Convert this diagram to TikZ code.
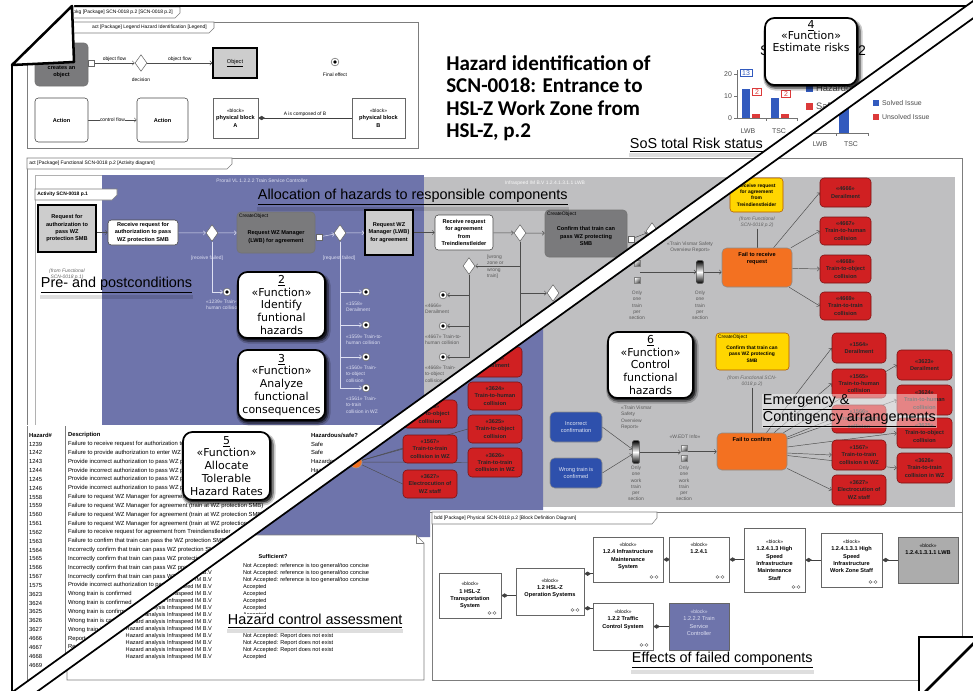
\documentclass[tikz,border=0pt]{standalone}
\usepackage{fontspec}
\setmainfont{Liberation Sans}
\newfontfamily\titlefont{Carlito}
\newfontfamily\funcfont{DejaVu Sans}
\usetikzlibrary{arrows.meta,shapes.geometric}
\pgfdeclarelayer{bg}
\pgfdeclarelayer{wires}
\pgfsetlayers{bg,wires,main}

% colours
\definecolor{lanebl}{RGB}{110,116,171}
\definecolor{lanegr}{RGB}{191,191,193}
\definecolor{cobj}{RGB}{122,122,124}
\definecolor{objgr}{RGB}{205,205,205}
\definecolor{hzred}{RGB}{208,32,34}
\definecolor{hzbd}{RGB}{120,18,18}
\definecolor{orng}{RGB}{243,113,33}
\definecolor{ylw}{RGB}{255,214,0}
\definecolor{ctlbl}{RGB}{46,80,172}
\definecolor{chbl}{RGB}{50,90,190}
\definecolor{chrd}{RGB}{220,58,58}
\definecolor{frm}{RGB}{125,125,125}
\definecolor{lbllight}{RGB}{222,224,242}
\definecolor{lwbgr}{RGB}{172,172,172}

% font sizes
\newcommand\fSm{\fontsize{4.2pt}{5.5pt}\selectfont}
\newcommand\fXs{\fontsize{3.7pt}{4.7pt}\selectfont}
\newcommand\fTb{\fontsize{4.4pt}{5pt}\selectfont}
\newcommand\fNt{\fontsize{4.2pt}{5pt}\selectfont}
\newcommand\fCh{\fontsize{5.2pt}{6pt}\selectfont}
\newcommand\fLbl{\fontsize{10.8pt}{12.4pt}\selectfont}
\newcommand\fFn{\funcfont\fontsize{8.2pt}{9.7pt}\selectfont}
\newcommand\fTi{\titlefont\bfseries\fontsize{15.8pt}{16.9pt}\selectfont}

% box from pixel corners: name, x1, y1, x2, y2, style, text
\newcommand\mkbox[7]{%
  \pgfmathsetmacro\mkw{(#4-#2)*0.75}%
  \pgfmathsetmacro\mkh{(#5-#3)*0.75}%
  \node[#6, minimum width=\mkw pt, minimum height=\mkh pt] (#1) at ({(#2+#4)/2},{(#3+#5)/2}) {#7};}
% function callout with a soft dark shadow: name, x1, y1, x2, y2, text
\newcommand\mkfunc[6]{%
  \fill[black, opacity=0.2, rounded corners=9pt] ({#2-1.8},{#3+1}) rectangle ({#4+5.5},{#5+5.5});
  \fill[black, opacity=0.35, rounded corners=8pt] ({#2-0.8},{#3+2}) rectangle ({#4+3.8},{#5+3.8});
  \fill[black, opacity=0.6, rounded corners=7pt] ({#2+0.5},{#3+2.5}) rectangle ({#4+2.2},{#5+2.2});
  \mkbox{#1}{#2}{#3}{#4}{#5}{funcbox}{#6}}
% decomposition mark in a block corner
\newcommand\decomp[1]{%
  \draw[black!65, line width=0.3pt] ([xshift=-9pt,yshift=4pt]#1.south east) circle (1.1pt) ++(1.1pt,0) -- ++(1.8pt,0) ++(1.1pt,0) circle (1.1pt);}
% soft shade under a caption
\newcommand\lblshade[1]{%
  \fill[black, opacity=0.13] ([yshift=-0.5pt]#1.south west) rectangle ([yshift=-3.5pt]#1.south east);}
% hazard list rows
\newcommand\hrow[3]{%
  \node[anchor=west, font=\fTb] (hn#1) at (28,{444+8.84*#1}) {#2};
  \node[anchor=west, font=\fTb] (hd#1) at (67,{444+8.84*#1}) {#3};}
\newcommand\nrow[2]{\node[anchor=west, font=\fNt] (nr#1) at (242,{566+7*#1}) {#2};}
\newcommand\stereoblk{{\fXs\mdseries «block»}}

\begin{document}
\begin{tikzpicture}[x=0.75pt, y=-0.75pt,
  every node/.style={inner sep=0.6pt, align=center, font=\fSm},
  flow/.style={draw=black!70, line width=0.35pt, -{Straight Barb[length=1.6pt,width=3.2pt]}},
  flowl/.style={flow, draw=lbllight},
  link/.style={draw=black!70, line width=0.35pt},
  comp/.style={draw=black!75, line width=0.4pt, {Diamond[length=5pt,width=3.2pt]}-},
  act/.style={draw=black!70, fill=white, rounded corners=2.5pt, line width=0.45pt},
  createobj/.style={draw=black!55, fill=cobj, rounded corners=3pt, line width=0.45pt},
  objbox/.style={draw=black, line width=1pt, fill=objgr},
  hazard/.style={draw=hzbd, fill=hzred, rounded corners=3pt, line width=0.4pt, font=\fSm\bfseries, text=black!85},
  failbox/.style={draw=black!45, fill=orng, rounded corners=3.5pt, line width=0.4pt},
  causebox/.style={draw=black!45, fill=ctlbl, rounded corners=3.5pt, text=white!85!ctlbl, font=\fSm},
  infobox/.style={draw=orange!70!black, fill=ylw, rounded corners=2.5pt, line width=0.4pt, font=\fXs\bfseries},
  blockbox/.style={draw=black!60, fill=white, line width=0.45pt, font=\fSm\bfseries},
  decision/.style={diamond, draw=black!60, fill=white, inner sep=0pt, minimum width=9pt, minimum height=12.5pt, line width=0.4pt},
  pinbox/.style={draw=black!60, fill=white, minimum size=4.5pt, inner sep=0pt},
  fe/.style={circle, draw=black!60, fill=white, minimum size=5.8pt, inner sep=0pt, line width=0.4pt,
    path picture={\fill[black] (path picture bounding box.center) circle (1.4pt);}},
  gradpin/.style={draw=black!70, top color=black, bottom color=black, middle color=white, rounded corners=0.8pt, minimum width=5pt, minimum height=17pt, inner sep=0pt},
  icon/.style={draw=black!50, top color=white, bottom color=black!70, shading angle=45, minimum size=4.5pt, inner sep=0pt},
  funcbox/.style={draw=black, line width=1.3pt, fill=white, rounded corners=7pt, font=\fFn},
  biglbl/.style={font=\fLbl, inner sep=0.5pt},
  tabtxt/.style={font=\fXs, inner sep=0pt},
  bluetxt/.style={font=\fXs, text=lbllight, align=left},
  graytxt/.style={font=\fXs, text=black!65, align=left},
  fromtxt/.style={font=\fXs\itshape, text=black!60},
  chtxt/.style={font=\fCh, text=black!70},
]
\useasboundingbox (0,0) rectangle (973,690);

% ================= backgrounds =================
\begin{pgfonlayer}{bg}
  \fill[white] (0,0) rectangle (973,690);
  \draw[frm, line width=0.4pt] (27,22) rectangle (418,148);
  \draw[frm, line width=0.4pt] (27,158) rectangle (962,512);
  \draw[frm!60, line width=0.3pt, fill=white] (35,175) rectangle (102,425);
  \fill[lanebl] (102,175) rectangle (424,425);
  \fill[lanegr] (424,177) rectangle (955,507);
  % hazard list panel
  \begin{scope}
    \clip (-10,-10) -- (988.4,-10) -- (1.4,700) -- (-10,700) -- cycle;
    \fill[white] (20,425) rectangle (440,690);
    \draw[frm, line width=0.4pt] (27,426) -- (27,680) -- (440,680);
    \draw[frm, line width=0.4pt] (65,426) -- (65,680);
  \end{scope}
  % refined view: partition and assessment note
  \begin{scope}
    \clip (1012.4,-10) -- (1100,-10) -- (1100,700) -- (25.4,700) -- cycle;
    \fill[lanebl] (0,300) -- (543,300) -- (543,510) -- (430,510) -- (430,537) -- (0,537) -- cycle;
    \draw[frm, line width=0.4pt, fill=white] (67,535) -- (416,535) -- (424,543) -- (424,680) -- (67,680) -- cycle;
    \draw[frm, line width=0.4pt] (416,535) -- (416,543) -- (424,543);
  \end{scope}
  \draw[frm, line width=0.4pt, fill=white] (432,512) rectangle (962,680);
\end{pgfonlayer}

% ================= package tab =================
\draw[frm, line width=0.4pt, fill=white] (22,7) -- (180,7) -- (180,13) -- (175,18) -- (22,18) -- cycle;
\node[tabtxt, anchor=east] (pkgtab) at (173,12.5) {pkg [Package] SCN-0018 p.2 [SCN-0018 p.2]};

% ================= legend =================
\draw[frm, line width=0.4pt, fill=white] (27,22) -- (214,22) -- (214,28) -- (209,33) -- (27,33) -- cycle;
\node[tabtxt, anchor=east] (legtab) at (207,27.5) {act [Package] Legend Hazard Identification [Legend]};
\mkbox{lgco}{35}{43}{88}{86}{createobj, font=\fSm\bfseries}{Action\\that\\creates an\\object};
\node[pinbox] (lgpin) at (91,63) {};
\node[decision] (lgdec) at (141,63) {};
\node[font=\fXs] (lgdectx) at (141,80) {decision};
\mkbox{lgobj}{213}{48}{257}{78}{objbox}{\underline{Object}};
\node[fe] (lgfe) at (335,62) {};
\node[font=\fXs] (lgfetx) at (335,75) {Final effect};
\mkbox{lga1}{35}{98}{88}{142}{act, font=\fSm\bfseries}{Action};
\mkbox{lga2}{137}{98}{188}{142}{act, font=\fSm\bfseries}{Action};
\mkbox{lgba}{213}{98}{258}{138}{blockbox}{\stereoblk\\physical block\\A};
\mkbox{lgbb}{352}{98}{405}{138}{blockbox}{\stereoblk\\physical block\\B};
\begin{pgfonlayer}{wires}
  \draw[flow] (lgpin) -- node[above=0.5pt, font=\fXs] (lgof1) {object flow} (lgdec);
  \draw[flow] (lgdec) -- node[above=0.5pt, font=\fXs] (lgof2) {object flow} (lgobj);
  \draw[flow] (lga1) -- node[fill=white, font=\fXs, inner sep=0.3pt] (lgcf) {control flow} (lga2);
  \draw[comp] (lgba) -- node[above=0.5pt, font=\fXs] (lgcomp) {A is composed of B} (lgbb);
\end{pgfonlayer}

% ================= title =================
\node[anchor=north west, font=\fTi, align=left, inner sep=0pt] (title) at (446,55)
  {Hazard identification of\\SCN-0018: Entrance to\\HSL-Z Work Zone from\\HSL-Z, p.2};

% ================= risk charts =================
\begin{scope}
  \clip (-10,-10) -- (988.4,-10) -- (1.4,700) -- (-10,700) -- cycle;
  \node[anchor=west, font=\fontsize{10.5pt}{12pt}\selectfont] (chttl) at (759,52) {Status per SoS 2};
  \draw[black!55, line width=0.35pt] (737,70) -- (737,118) -- (797,118);
  \foreach \yy/\vv in {74/20,96/10,118/0} {
    \draw[black!55, line width=0.35pt] (734,\yy) -- (737,\yy);
    \node[chtxt, anchor=east] (ax\vv) at (733,\yy) {\vv};}
  \draw[black!55, line width=0.35pt] (766,118) -- (766,121) (797,118) -- (797,121);
  \fill[chbl] (742,118) rectangle (750,89.4);
  \fill[chrd] (752,118) rectangle (760,113.6);
  \fill[chbl] (771,118) rectangle (779,98.2);
  \fill[chrd] (781,118) rectangle (789,113.6);
  \node[draw=chbl, fill=white, text=chbl, font=\fCh, inner sep=0.8pt, minimum width=9pt] (v13) at (746,73) {13};
  \node[draw=chrd, fill=white, text=chrd, font=\fCh, inner sep=0.8pt, minimum width=7pt] (v2a) at (757,92) {2};
  \node[draw=chrd, fill=white, text=chrd, font=\fCh, inner sep=0.8pt, minimum width=7pt] (v2b) at (786,94) {2};
  \node[chtxt] (clwb) at (748,131) {LWB};
  \node[chtxt] (ctsc) at (779,131) {TSC};
  \fill[chbl] (806,85) rectangle (813,92);
  \node[anchor=west, font=\fontsize{7pt}{8pt}\selectfont, text=black!70] (lgh) at (815,88.5) {Hazardous};
  \fill[chrd] (806,103) rectangle (813,110);
  \node[anchor=west, font=\fontsize{7pt}{8pt}\selectfont, text=black!70] (lgs) at (815,106.5) {Safe};
\end{scope}
\begin{scope}
  \clip (1012.4,-10) -- (1100,-10) -- (1100,700) -- (25.4,700) -- cycle;
  \draw[black!55, line width=0.35pt] (806,133) -- (868,133);
  \draw[black!55, line width=0.35pt] (806,133) -- (806,136) (836,133) -- (836,136) (868,133) -- (868,136);
  \fill[chbl] (839,133) rectangle (849,107);
  \node[chtxt] (lwb2) at (820,144) {LWB};
  \node[chtxt] (tsc2) at (851,144) {TSC};
  \fill[chbl] (873,100) rectangle (879,106);
  \node[chtxt, anchor=west] (sol) at (881,103) {Solved Issue};
  \fill[chrd] (873,114) rectangle (879,120);
  \node[chtxt, anchor=west] (uns) at (881,117) {Unsolved Issue};
\end{scope}

% ================= activity diagram =================
\draw[frm, line width=0.4pt, fill=white] (27,158) -- (232,158) -- (232,164) -- (227,169) -- (27,169) -- cycle;
\node[tabtxt, anchor=west] (acttab) at (29,163.5) {act [Package] Functional SCN-0018 p.2 [Activity diagram]};
\node[font=\fXs, text=lbllight] (lanebh) at (262,181) {Prorail VL 1.2.2.2 Train Service Controller};
\node[font=\fXs, text=white!90!lanegr] (lanegh) at (545,183) {Infraspeed IM B.V 1.2.4.1.3.1.1 LWB};
\draw[frm, line width=0.4pt, fill=white] (35,189) -- (117,189) -- (117,195) -- (112,200) -- (35,200) -- cycle;
\node[tabtxt, anchor=west, font=\fXs\bfseries] (subtab) at (37,194.5) {Activity SCN-0018 p.1};

\mkbox{req}{38}{205}{96}{252}{objbox, font=\fSm\bfseries}{Request for\\authorization to\\pass WZ\\protection SMB};
\node[fromtxt] (reqfrom) at (67,274) {(from Functional\\SCN-0018 p.1)};

\mkbox{rcv}{108}{220}{178}{245}{act, font=\fSm\bfseries}{Receive request for\\authorization to pass\\WZ protection SMB};
\node[decision] (d1) at (212,233) {};
\mkbox{co1}{237}{212}{315}{253}{createobj}{};
\node[anchor=north west, font=\fXs] (co1k) at (238,213) {CreateObject};
\node[font=\fSm\bfseries] (co1t) at (276,237) {Request WZ Manager\\(LWB) for agreement};
\node[pinbox] (p1) at (319,237) {};
\node[decision] (d2) at (340,233) {};
\mkbox{rqwz}{365}{210}{413}{255}{objbox, font=\fSm\bfseries}{Request WZ\\Manager (LWB)\\for agreement};
\mkbox{rcv2}{435}{215}{493}{250}{act, font=\fSm\bfseries}{Receive request\\for agreement\\from\\Treindienstleider};
\node[decision] (d3) at (520,233) {};
\mkbox{co2}{545}{210}{627}{257}{createobj}{};
\node[anchor=north west, font=\fXs] (co2k) at (546,211) {CreateObject};
\node[font=\fSm\bfseries] (co2t) at (586,236) {Confirm that train can\\pass WZ protecting\\SMB};
\node[pinbox] (p2) at (631,239) {};
\node[decision] (d4) at (652,231) {};
\node[font=\fXs, text=lbllight] (gd1) at (207,258) {[receive failed]};
\node[font=\fXs, text=lbllight] (gd2) at (339,258) {[request failed]};

\node[fe] (fe1239) at (227,292) {};
\node[bluetxt, anchor=north west] (t1239) at (205,299) {«1239» Train-to-\\human collision};
\node[fe] (fe1558) at (366,292) {};
\node[fe] (fe1559) at (366,325) {};
\node[fe] (fe1560) at (366,357) {};
\node[fe] (fe1561) at (366,388) {};
\node[bluetxt, anchor=north west] (t1558) at (345,301) {«1558»\\Derailment};
\node[bluetxt, anchor=north west] (t1559) at (345,334) {«1559» Train-to-\\human collision};
\node[bluetxt, anchor=north west] (t1560) at (345,365) {«1560» Train-\\to-object\\collision};
\node[bluetxt, anchor=north west] (t1561) at (345,396) {«1561» Train-\\to-train\\collision in WZ};

\node[decision] (d5) at (469,266) {};
\node[graytxt, anchor=north west] (twz) at (486,254) {[wrong\\zone or\\wrong\\train]};
\coordinate (d3end) at (520,345);
\node[decision] (d6) at (553,293) {};
\node[fe] (fe4666) at (443,295) {};
\node[fe] (fe4667) at (443,326) {};
\node[fe] (fe4668) at (443,357) {};
\node[graytxt, anchor=north west] (t4666) at (424,303) {«4666»\\Derailment};
\node[graytxt, anchor=north west] (t4667) at (424,334) {«4667» Train-to-\\human collision};
\node[graytxt, anchor=north west] (t4668) at (424,365) {«4668» Train-\\to-object\\collision};

\node[icon] (ic1) at (637,263) {};
\node[icon] (ic2) at (637,280) {};
\node[graytxt, align=center, anchor=north] (oo1) at (637,290) {Only\\one\\train\\per\\section};
\node[gradpin] (gp1) at (700,272) {};
\node[graytxt, align=center, anchor=north] (oo2) at (700,290) {Only\\one\\train\\per\\section};
\node[graytxt, align=center] (tv1) at (690,247) {«Train Vismar Safety\\Overview Report»};
\mkbox{yl1}{730}{178}{783}{212}{infobox}{Receive request\\for agreement\\from\\Treindienstleider};
\node[fromtxt] (yl1f) at (757,222) {(from Functional\\SCN-0018 p.2)};
\mkbox{fail1}{722}{248}{792}{287}{failbox}{};
\node[anchor=north, font=\fSm\bfseries] (fail1t) at (757,251) {Fail to receive\\request};
\mkbox{h4666}{820}{178}{871}{207}{hazard}{«4666»\\Derailment};
\mkbox{h4667}{820}{217}{871}{245}{hazard}{«4667»\\Train-to-human\\collision};
\mkbox{h4668}{820}{255}{871}{283}{hazard}{«4668»\\Train-to-object\\collision};
\mkbox{h4669}{820}{292}{871}{320}{hazard}{«4669»\\Train-to-train\\collision};

\begin{pgfonlayer}{wires}
  \draw[flow] (req.east |- rcv.west) -- (rcv.west);
  \draw[flowl] (rcv) -- (d1);
  \draw[flowl] (d1) -- (co1);
  \draw[flowl] (p1) -- (d2);
  \draw[flowl] (d2) -- (rqwz);
  \draw[flow] (rqwz) -- (rcv2);
  \draw[flow] (rcv2) -- (d3);
  \draw[flow] (d3) -- (co2);
  \draw[flow] (p2) -- (d4);
  \draw[flowl] (d1.south) |- (fe1239.west);
  \foreach \f in {fe1558,fe1559,fe1560,fe1561} {\draw[flowl] (d2.south) |- (\f.west);}
  \draw[flow] (d3.south) |- (d5.east);
  \draw[link] (d3.south) -- (d3end);
  \draw[flow] (d3.south) |- (d6.west);
  \foreach \f in {fe4666,fe4667,fe4668} {\draw[flow] (d5.south) |- (\f.east);}
  \draw[link] (yl1f.south) -- (fail1.north);
  \draw[flow] (ic1.east |- gp1.west) -- (gp1.west);
  \draw[flow] (gp1.east) -- (gp1.east -| fail1.west);
  \foreach \h in {h4666,h4667,h4668,h4669} {\draw[flow] (fail1) -- (\h.west);}
\end{pgfonlayer}

% ================= hazard list =================
\begin{scope}
  \clip (-10,-10) -- (988.4,-10) -- (1.4,700) -- (-10,700) -- cycle;
  \node[anchor=west, font=\fTb\bfseries] (hh1) at (28,435) {Hazard\#};
  \node[anchor=west, font=\fTb\bfseries] (hh2) at (67,435) {Description};
  \node[anchor=west, font=\fTb\bfseries] (hh3) at (310,435) {Hazardous/safe?};
  \hrow{0}{1239}{Failure to receive request for authorization to pass WZ protection SMB}
  \hrow{1}{1242}{Failure to provide authorization to enter WZ}
  \hrow{2}{1243}{Provide incorrect authorization to pass WZ protection SMB}
  \hrow{3}{1244}{Provide incorrect authorization to pass WZ protection SMB}
  \hrow{4}{1245}{Provide incorrect authorization to pass WZ protection SMB}
  \hrow{5}{1246}{Provide incorrect authorization to pass WZ protection SMB}
  \hrow{6}{1558}{Failure to request WZ Manager for agreement (train at WZ protection SMB)}
  \hrow{7}{1559}{Failure to request WZ Manager for agreement (train at WZ protection SMB)}
  \hrow{8}{1560}{Failure to request WZ Manager for agreement (train at WZ protection SMB)}
  \hrow{9}{1561}{Failure to request WZ Manager for agreement (train at WZ protection SMB)}
  \hrow{10}{1562}{Failure to receive request for agreement from Treindienstleider}
  \hrow{11}{1563}{Failure to confirm that train can pass the WZ protection SMB}
  \hrow{12}{1564}{Incorrectly confirm that train can pass WZ protection SMB}
  \hrow{13}{1565}{Incorrectly confirm that train can pass WZ protection SMB}
  \hrow{14}{1566}{Incorrectly confirm that train can pass WZ protection SMB}
  \hrow{15}{1567}{Incorrectly confirm that train can pass WZ protection SMB}
  \hrow{16}{1575}{Provide incorrect authorization to pass WZ protection SMB}
  \hrow{17}{3623}{Wrong train is confirmed}
  \hrow{18}{3624}{Wrong train is confirmed}
  \hrow{19}{3625}{Wrong train is confirmed}
  \hrow{20}{3626}{Wrong train is confirmed}
  \hrow{21}{3627}{Wrong train is confirmed}
  \hrow{22}{4666}{Report of derailment}
  \hrow{23}{4667}{Report of train-to-human collision}
  \hrow{24}{4668}{Report of train-to-object collision}
  \hrow{25}{4669}{Report of train-to-train collision}
  \foreach \s [count=\i from 0] in {Safe,Safe,Hazardous,Hazardous,Hazardous,Hazardous}
    {\node[anchor=west, font=\fTb] (hs\i) at (310,{444+8.84*\i}) {\s};}
\end{scope}

% ================= refined view (right of the tear) =================
\begin{scope}
  \clip (1012.4,-10) -- (1100,-10) -- (1100,700) -- (25.4,700) -- cycle;
  \node[font=\fNt\bfseries] (suff) at (273,556) {Sufficient?};
  \nrow{0}{Not Accepted: reference is too general/too concise}
  \nrow{1}{Not Accepted: reference is too general/too concise}
  \nrow{2}{Not Accepted: reference is too general/too concise}
  \nrow{3}{Accepted}
  \nrow{4}{Accepted}
  \nrow{5}{Accepted}
  \nrow{6}{Accepted}
  \nrow{7}{Accepted}
  \nrow{10}{Not Accepted: Report does not exist}
  \nrow{11}{Not Accepted: Report does not exist}
  \nrow{12}{Not Accepted: Report does not exist}
  \nrow{13}{Accepted}
  \foreach \k in {0,...,13} {\node[anchor=east, font=\fNt] (rf\k) at (213,{566+7*\k}) {Hazard analysis Infraspeed IM B.V};}
  \node[circle, fill=orng, draw=black!40, minimum size=9pt, inner sep=0pt] (ocir) at (356,462) {};
  \mkbox{hA1565}{403}{365}{457}{393}{hazard}{«1565»\\Train-to-human\\collision};
  \mkbox{hA1566}{403}{400}{457}{428}{hazard}{«1566»\\Train-to-object\\collision};
  \mkbox{hA1567}{403}{435}{457}{463}{hazard}{«1567»\\Train-to-train\\collision in WZ};
  \mkbox{hA3627}{403}{470}{457}{498}{hazard}{«3627»\\Electrocution of\\WZ staff};
  \mkbox{hB3623}{468}{347}{522}{377}{hazard}{«3623»\\Derailment};
  \mkbox{hB3624}{468}{382}{522}{410}{hazard}{«3624»\\Train-to-human\\collision};
  \mkbox{hB3625}{468}{415}{522}{443}{hazard}{«3625»\\Train-to-object\\collision};
  \mkbox{hB3626}{468}{448}{522}{477}{hazard}{«3626»\\Train-to-train\\collision in WZ};
\end{scope}
\begin{pgfonlayer}{wires}
  \begin{scope}
    \clip (1012.4,-10) -- (1100,-10) -- (1100,700) -- (25.4,700) -- cycle;
    \foreach \h in {hA1566,hA1567,hA3627,hB3625,hB3626} {\draw[link] (ocir) -- (\h.west);}
  \end{scope}
\end{pgfonlayer}

% control of functional hazards
\mkbox{inc}{550}{412}{602}{442}{causebox}{Incorrect\\confirmation};
\mkbox{wtc}{550}{458}{602}{488}{causebox}{Wrong train is\\confirmed};
\node[gradpin] (gp2) at (636,452) {};
\node[graytxt, anchor=north west] (tv2) at (620,405) {«Train Vismar\\Safety\\Overview\\Report»};
\node[graytxt, align=center, anchor=north] (oo3) at (636,465) {Only\\one\\work\\train\\per\\section};
\node[icon] (ic3) at (684,448) {};
\node[icon] (ic4) at (684,458) {};
\node[graytxt] (wedt) at (685,437) {«W.EDT Info»};
\node[graytxt, align=center, anchor=north] (oo4) at (684,465) {Only\\one\\work\\train\\per\\section};
\mkbox{yl2}{716}{333}{789}{370}{infobox}{};
\node[anchor=north west, font=\fXs] (yl2k) at (717,334) {CreateObject};
\node[font=\fXs\bfseries] (yl2t) at (752,354) {Confirm that train can\\pass WZ protecting\\SMB};
\node[fromtxt] (yl2f) at (752,381) {(from Functional SCN-\\0018 p.2)};
\mkbox{fail2}{717}{433}{787}{470}{failbox}{};
\node[anchor=north, font=\fSm\bfseries] (fail2t) at (752,436) {Fail to confirm};
\mkbox{h1564}{832}{333}{886}{363}{hazard}{«1564»\\Derailment};
\mkbox{h1565}{832}{369}{886}{398}{hazard}{«1565»\\Train-to-human\\collision};
\mkbox{h1566}{832}{405}{886}{433}{hazard}{«1566»\\Train-to-object\\collision};
\mkbox{h1567}{832}{440}{886}{470}{hazard}{«1567»\\Train-to-train\\collision in WZ};
\mkbox{h3627}{832}{475}{886}{505}{hazard}{«3627»\\Electrocution of\\WZ staff};
\mkbox{h3623}{897}{350}{952}{380}{hazard}{«3623»\\Derailment};
\mkbox{h3624}{897}{385}{952}{415}{hazard}{«3624»\\Train-to-human\\collision};
\mkbox{h3625}{897}{418}{952}{448}{hazard}{«3625»\\Train-to-object\\collision};
\mkbox{h3626}{897}{453}{952}{483}{hazard}{«3626»\\Train-to-train\\collision in WZ};
\begin{pgfonlayer}{wires}
  \draw[flow] (inc.east) -- (gp2);
  \draw[flow] (wtc.east) -- (gp2);
  \draw[flow] (gp2) -- (gp2 -| ic3.west);
  \draw[flow] (ic3.east |- fail2) -- (fail2);
  \draw[link] (yl2f.south) -- (fail2.north);
  \foreach \h in {h1564,h1565,h1566,h1567,h3627,h3623,h3624,h3625,h3626} {\draw[flow] (fail2) -- (\h.west);}
\end{pgfonlayer}

% ================= block definition diagram =================
\draw[frm, line width=0.4pt, fill=white] (432,512) -- (657,512) -- (657,518) -- (652,524) -- (432,524) -- cycle;
\node[tabtxt, anchor=west] (bddtab) at (434,518) {bdd [Package] Physical SCN-0018 p.2 [Block Definition Diagram]};
\mkbox{b1}{439}{573}{501}{618}{blockbox}{\stereoblk\\1 HSL-Z\\Transportation\\System};
\mkbox{b12}{516}{568}{584}{615}{blockbox}{\stereoblk\\1.2 HSL-Z\\Operation Systems\\~};
\mkbox{b124}{593}{537}{663}{582}{blockbox}{\stereoblk\\1.2.4 Infrastructure\\Maintenance\\System\\~};
\mkbox{b1241}{669}{537}{729}{582}{blockbox}{\stereoblk\\1.2.4.1\\~\\~\\~};
\mkbox{b12413}{744}{528}{805}{592}{blockbox}{\stereoblk\\1.2.4.1.3 High\\Speed\\Infrastructure\\Maintenance\\Staff};
\mkbox{b124131}{821}{533}{882}{587}{blockbox}{\stereoblk\\1.2.4.1.3.1 High\\Speed\\Infrastructure\\Work Zone Staff\\~};
\mkbox{b1241311}{898}{537}{958}{583}{blockbox, fill=lwbgr}{\stereoblk\\1.2.4.1.3.1.1 LWB\\~\\~\\~};
\mkbox{b122}{593}{603}{653}{650}{blockbox}{\stereoblk\\1.2.2 Traffic\\Control System\\~\\~};
\mkbox{b1222}{669}{603}{729}{650}{blockbox, fill=lanebl, text=lbllight, font=\fSm}{\stereoblk\\1.2.2.2 Train\\Service\\Controller\\~};
\foreach \b in {b1,b12,b124,b1241,b12413,b124131,b122} {\decomp{\b}}
\coordinate (c12a) at ([yshift=-4.5pt]b12.north east);
\coordinate (c12b) at ([yshift=5.25pt]b12.south east);
\begin{pgfonlayer}{wires}
  \draw[comp] (b1.east) -- (b1.east -| b12.west);
  \draw[comp] (c12a) -- (c12a -| b124.west);
  \draw[comp] (c12b) -- (c12b -| b122.west);
  \draw[comp] (b124.east) -- (b124.east -| b1241.west);
  \draw[comp] (b1241.east) -- (b1241.east -| b12413.west);
  \draw[comp] (b12413.east) -- (b12413.east -| b124131.west);
  \draw[comp] (b124131.east) -- (b124131.east -| b1241311.west);
  \draw[comp] (b122.east) -- (b122.east -| b1222.west);
\end{pgfonlayer}

% ================= captions =================
\node[biglbl, anchor=west] (lblpre) at (40,285) {\underline{Pre- and postconditions}};
\lblshade{lblpre}
\node[biglbl, anchor=west] (lblalloc) at (257,197) {\underline{Allocation of hazards to responsible components}};
\lblshade{lblalloc}
\node[biglbl, anchor=west] (lblsos) at (629,145) {\underline{SoS total Risk status}};
\lblshade{lblsos}
\node[biglbl, anchor=west, fill=white] (lblhca) at (227,621) {\underline{Hazard control assessment}};
\lblshade{lblhca}
\node[biglbl, anchor=west] (lbleff) at (631,660) {\underline{Effects of failed components}};
\lblshade{lbleff}
\node[biglbl, anchor=north west, align=left, fill=white, fill opacity=0.45, text opacity=1] (lblemg) at (762,394)
  {\underline{Emergency \&}\\\underline{Contingency arrangements}};

% ================= function callouts =================
\mkfunc{f2}{238}{272}{325}{338}{\underline{2}\\«Function»\\Identify\\funtional\\hazards}
\mkfunc{f3}{238}{350}{325}{420}{\underline{3}\\«Function»\\Analyze\\functional\\consequences}
\mkfunc{f5}{183}{432}{270}{500}{\underline{5}\\«Function»\\Allocate\\Tolerable\\Hazard Rates}
\mkfunc{f6}{608}{332}{693}{398}{\underline{6}\\«Function»\\Control\\functional\\hazards}
\mkfunc{f4}{765}{18}{857}{85}{}
\node[font=\funcfont\fontsize{8.2pt}{8.8pt}\selectfont, anchor=north, inner sep=0pt] (f4t) at (811,20) {\underline{4}\\«Function»\\Estimate risks};

% ================= page edge, tear and folds =================
\draw[black, line width=1.9pt] (72,6) -- (975,6);
\draw[black, line width=1.9pt] (12,65) -- (12,692);
\fill[white] (988.4,-10) -- (1012.4,-10) -- (25.4,700) -- (1.4,700) -- cycle;
\draw[black, line width=1.3pt] (988.4,-10) -- (1.4,700);
\draw[black, line width=1.3pt] (1012.4,-10) -- (25.4,700);
\fill[white] (0,0) -- (74,0) -- (74,62) -- (12,65) -- (0,65) -- cycle;
\draw[black, line width=1.9pt, line join=round] (72,6) -- (12,65) -- (74,62) -- cycle;
\fill[white] (919,637) rectangle (975,692);
\draw[black, line width=1.9pt] (919,692) -- (919,637) -- (975,637);
\draw[black, line width=1.9pt] (925,692) -- (975,642);
\end{tikzpicture}
\end{document}
